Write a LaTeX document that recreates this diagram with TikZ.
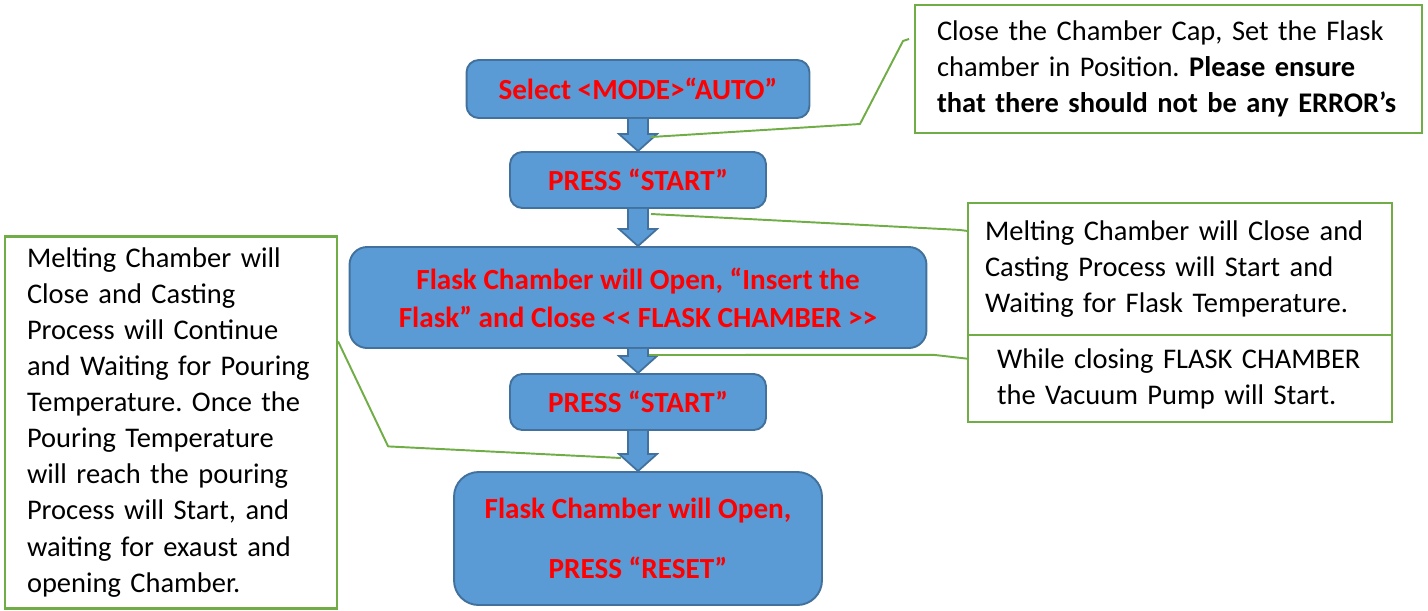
\documentclass[tikz,border=0pt]{standalone}
\usepackage{fontspec}
\newfontfamily\calibri{Carlito}
\usetikzlibrary{calc,positioning}
\definecolor{boxblue}{HTML}{5B9BD5}
\definecolor{boxedge}{HTML}{41719C}
\definecolor{notegreen}{HTML}{70AD47}
\definecolor{steptext}{HTML}{FF0000}
\tikzset{
    stepbox/.style={draw=boxedge, fill=boxblue, line width=1.1pt,
        rounded corners=7pt, text=steptext, align=center, inner sep=0pt,
        font=\calibri\fontsize{16.6}{21.6}\selectfont\bfseries},
    notebox/.style={draw=notegreen, line width=1.3pt, fill=white,
        align=left, inner sep=0pt,
        font=\calibri\fontsize{16.2}{20.5}\selectfont\frenchspacing},
    noteline/.style={draw=notegreen, line width=1.1pt, line join=round},
    flowarrow/.style={draw=boxedge, fill=boxblue, line width=1pt}
}
% block arrow from the bottom of one step to the top of the next
\newcommand{\blockarrow}[2]{%
    \draw[flowarrow] ($(#1.south)+(-10,0)$) -- ($(#2.north)+(-10,-17)$)
        -- ($(#2.north)+(-19,-17)$) -- (#2.north) -- ($(#2.north)+(19,-17)$)
        -- ($(#2.north)+(10,-17)$) -- ($(#1.south)+(10,0)$);}

\begin{document}
\begin{tikzpicture}[x=0.02cm, y=-0.02cm]
    \useasboundingbox (0,0) rectangle (1428,610);

    % steps
    \node[stepbox, minimum width=6.86cm, minimum height=1.16cm] (mode) at (638,89)
        {Select <MODE>“AUTO”};
    \node[stepbox, minimum width=5.12cm, minimum height=1.12cm] (start1) at (638,180)
        {PRESS “START”};
    \node[stepbox, rounded corners=10pt, minimum width=11.54cm, minimum height=2.02cm] (insert) at (638,297.5)
        {Flask Chamber will Open, “Insert the\\Flask” and Close << FLASK CHAMBER >>};
    \node[stepbox, minimum width=5.12cm, minimum height=1.12cm] (start2) at (638,402)
        {PRESS “START”};
    \node[stepbox, rounded corners=14pt, minimum width=7.36cm, minimum height=2.66cm] (reset) at (638,538.5)
        {Flask Chamber will Open,\\[12.4pt]PRESS “RESET”};

    \blockarrow{mode}{start1}
    \blockarrow{start1}{insert}
    \blockarrow{insert}{start2}
    \blockarrow{start2}{reset}

    % notes
    \node[notebox, minimum width=10.14cm, minimum height=2.56cm, text width=9.26cm] (cap) at (1168.5,69)
        {Close the Chamber Cap, Set the Flask\\chamber in Position. \textbf{Please ensure}\\\textbf{that there should not be any ERROR’s}};
    \node[notebox, minimum width=8.48cm, minimum height=2.64cm, text width=7.8cm] (melt) at (1180,269)
        {Melting Chamber will Close and\\\makebox[7.56cm][s]{Casting Process will Start and}\\Waiting for Flask Temperature.};
    \node[notebox, minimum width=8.48cm, minimum height=1.74cm, text width=7.32cm] (vacuum) at (1180,378.5)
        {While closing FLASK CHAMBER\\the Vacuum Pump will Start.};
    \node[notebox, minimum width=6.64cm, minimum height=7.44cm, text width=5.76cm] (pour) at (171,422.5)
        {Melting Chamber will\\Close and Casting\\Process will Continue\\and Waiting for Pouring\\Temperature. Once the\\Pouring Temperature\\will reach the pouring\\Process will Start, and\\waiting for exaust and\\opening Chamber.};

    % callout lines
    \coordinate (capend) at (651,137);
    \coordinate (capbend) at (860,124);
    \coordinate (captip) at (903,41);
    \draw[noteline] (capend) -- (capbend) -- (captip) -- ++(6,-2);
    \coordinate (meltend) at (651,214);
    \draw[noteline] (meltend) -- ($(melt.north west)+(-8,28)$) -- ($(melt.north west)+(0,29)$);
    \coordinate (vacend) at (649,355);
    \draw[noteline] (vacend) -- ($(vacuum.north west)+(-33,21)$) -- ($(vacuum.north west)+(2,25)$);
    \coordinate (pourend) at (621,458);
    \draw[noteline] (pourend) -- ($(pour.north east)+(50,211)$) -- ($(pour.north east)+(0,106)$);
\end{tikzpicture}
\end{document}
